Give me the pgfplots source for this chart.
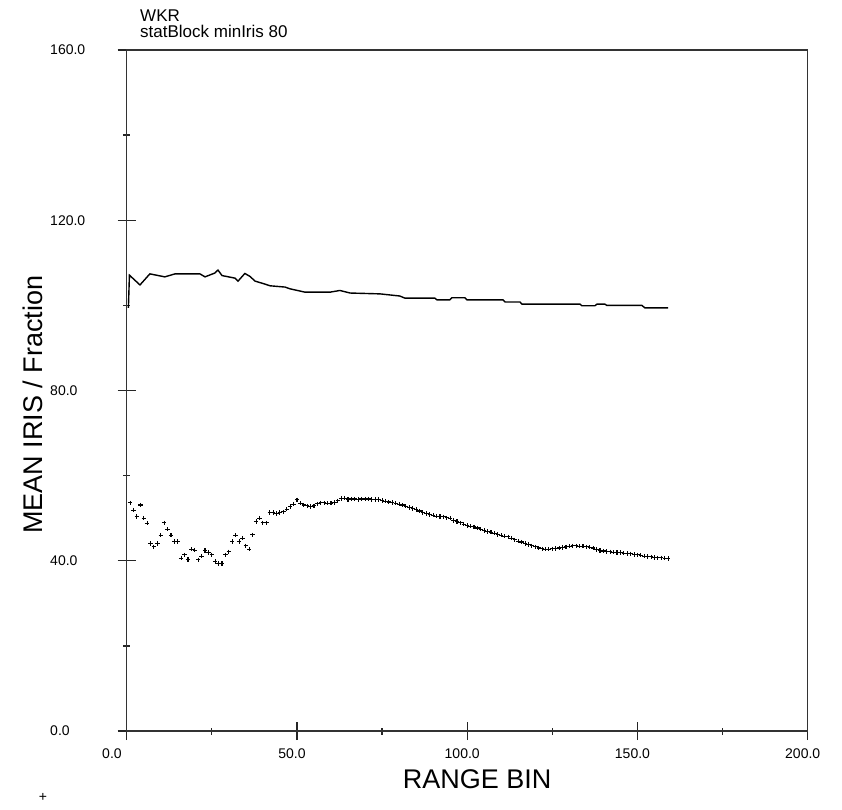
\documentclass[border=0pt]{standalone}
\usepackage{fontspec}
\setmainfont{Liberation Sans}
\usepackage{pgfplots}
\pgfplotsset{compat=1.18}
\begin{document}
\begin{tikzpicture}[x=1pt,y=1pt]
\path[use as bounding box] (0,0) rectangle (842,809);
\begin{axis}[
  at={(126.7pt,78pt)}, anchor=origin,
  scale only axis, width=681pt, height=681pt,
  xmin=0, xmax=200, ymin=0, ymax=160,
  axis line style={line width=1.5pt, black!80},
  tick pos=left, tick align=center,
  xtick={0,50,100,150,200}, xticklabels={\makebox[0pt][r]{0.0},50.0,100.0,150.0,200.0},
  ytick={0,40,80,120,160}, yticklabels={0.0,40.0,80.0,120.0,160.0},
  minor x tick num=1, minor y tick num=1,
  major tick length=18pt, minor tick length=7pt,
  every tick/.style={line width=1.3pt, black!85},
  ticklabel style={font=\fontsize{14}{16}\selectfont},
  xticklabel style={xshift=-5pt, yshift=-5pt},
  yticklabel style={anchor=west, xshift=-71pt},
  xlabel={RANGE BIN}, ylabel={MEAN IRIS / Fraction},
  every axis x label/.style={at={(axis description cs:0.5,0)}, anchor=base, yshift=-57pt, xshift=10pt, font=\fontsize{27}{30}\selectfont},
  every axis y label/.style={at={(axis description cs:0,0.5)}, xshift=-83.7pt, yshift=-14pt, anchor=base, rotate=90, font=\fontsize{27}{30}\selectfont},
  clip=false,
]
\addplot[black, line width=1.4pt] coordinates {
(0.5,99.4) (0.8,107.1) (3.9,104.8) (6.8,107.4) (11.2,106.7) (14.2,107.4) (21.5,107.4) (23,106.7) (25.9,107.6) (26.8,108.3) (28,107.0) (31.8,106.4) (32.7,105.7) (34.7,107.5) (36.2,106.8) (37.7,105.7) (40.6,105.0) (42.1,104.6) (46.5,104.3) (47.9,103.9) (52.4,103.1) (59.7,103.1) (62.6,103.5) (65.6,102.9) (74.4,102.7) (80.2,102.2) (81.7,101.7) (90.5,101.7) (91.1,101.3) (94.9,101.3) (95.5,101.8) (99.3,101.8) (99.9,101.3) (110.5,101.3) (111.1,100.8) (115.5,100.8) (116.1,100.3) (133.1,100.3) (133.7,99.9) (137.5,99.9) (138.1,100.3) (140.4,100.3) (141,100.0) (151.3,100.0) (152.2,99.4) (159,99.4)
};
\addplot[black, only marks, mark=+, mark size=2.2pt, line width=1.1pt] coordinates {
(1,53.6) (2,51.9) (3,50.4) (4,53.1) (5,50.0) (6,48.8) (7,44.1) (8,43.3) (9,44.1) (10,46.0)
(11,48.9) (12,47.4) (13,46.0) (14,44.5) (15,44.5) (16,40.6) (17,41.4) (18,40.3) (19,42.7) (20,42.5)
(21,40.2) (22,41.1) (23,42.4) (24,41.9) (25,41.4) (26,39.8) (27,39.4) (28,39.4) (29,41.4) (30,42.1)
(31,44.5) (32,46.0) (33,44.5) (34,45.3) (35,43.5) (36,42.7) (37,46.1) (38,49.2) (39,50.0) (40,48.9)
(41,48.9) (42,51.3) (43,51.3) (44,51.1) (45,51.3) (46,51.5) (47,52.1) (48,52.7) (49,53.3) (50,54.3)
(51,53.5) (52,53.1) (53,52.9) (54,52.7) (55,52.9) (56,53.4) (57,53.6) (58,53.6) (59,53.5) (60,53.5)
(61,53.7) (62,54.1) (63,54.6) (64,54.7) (65,54.4) (66,54.5) (67,54.5) (68,54.4) (69,54.5) (70,54.5)
(71,54.5) (72,54.4) (73,54.4) (74,54.4) (75,54.2) (76,54.0) (77,53.8) (78,53.7) (79,53.5) (80,53.3)
(81,53.1) (82,52.8) (83,52.5) (84,52.3) (85,52.0) (86,51.7) (87,51.3) (88,51.1) (89,50.9) (90,50.7)
(91,50.5) (92,50.4) (93,50.3) (94,50.1) (95,50.0) (96,49.5) (97,49.2) (98,48.9) (99,48.6) (100,48.3)
(101,48.1) (102,48.0) (103,47.7) (104,47.4) (105,47.1) (106,46.9) (107,46.7) (108,46.5) (109,46.2) (110,46.0)
(111,45.8) (112,45.6) (113,45.3) (114,44.9) (115,44.6) (116,44.4) (117,44.1) (118,43.8) (119,43.5) (120,43.3)
(121,43.0) (122,42.8) (123,42.7) (124,42.7) (125,42.8) (126,42.9) (127,43.0) (128,43.1) (129,43.3) (130,43.4)
(131,43.5) (132,43.5) (133,43.4) (134,43.4) (135,43.3) (136,43.2) (137,43.0) (138,42.6) (139,42.4) (140,42.3)
(141,42.2) (142,42.1) (143,42.0) (144,41.9) (145,41.9) (146,41.8) (147,41.7) (148,41.6) (149,41.5) (150,41.4)
(151,41.3) (152,41.1) (153,41.0) (154,40.9) (155,40.8) (156,40.7) (157,40.7) (158,40.6) (159,40.5)
};
\end{axis}
\node[anchor=base west, inner sep=0pt, font=\fontsize{17}{19}\selectfont] at (140,787) {WKR};
\node[anchor=base west, inner sep=0pt, font=\fontsize{17}{19}\selectfont] at (140,771) {statBlock minIris 80};
\node[inner sep=0pt, font=\fontsize{14}{16}\selectfont] at (43,12) {+};
\end{tikzpicture}
\end{document}
